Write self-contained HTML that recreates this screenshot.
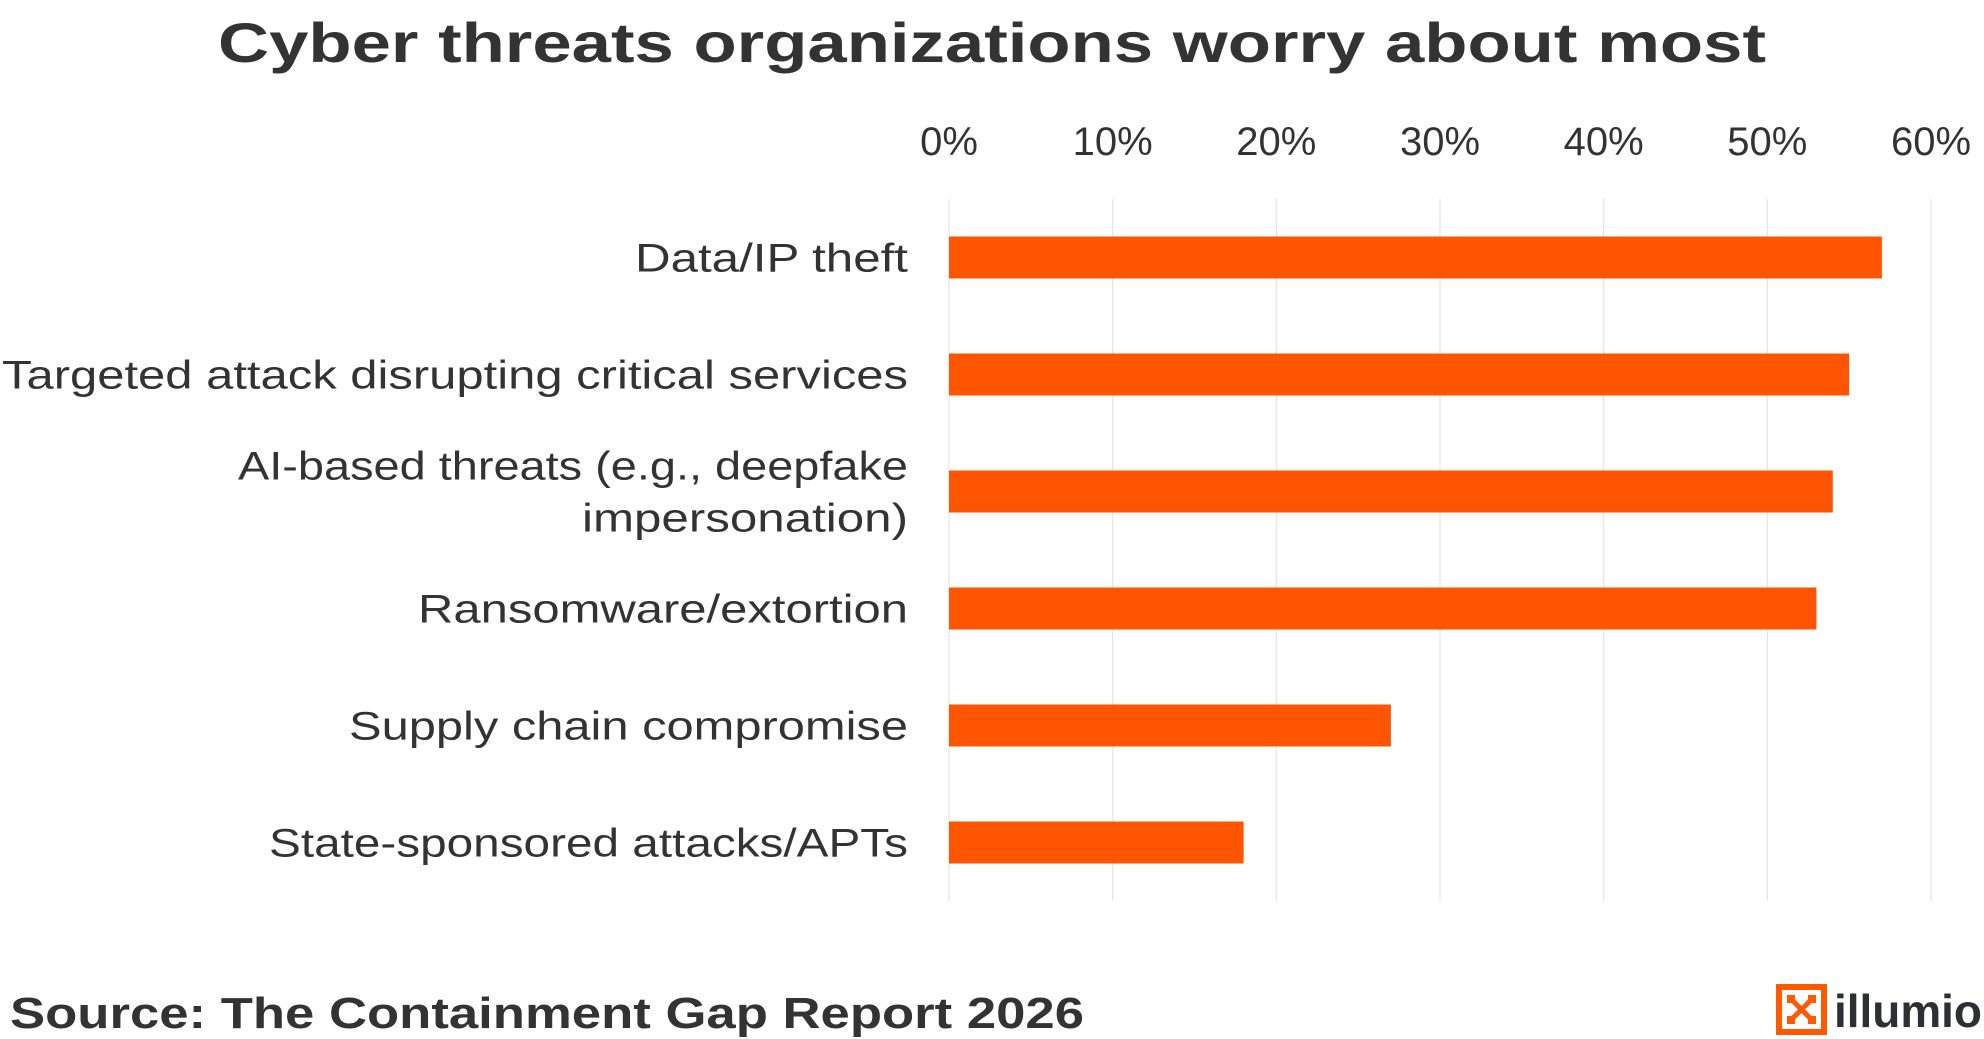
<!DOCTYPE html>
<html><head><meta charset="utf-8"><style>
html,body{margin:0;padding:0;background:#fff;}
svg{display:block;font-family:"Liberation Sans",sans-serif;}
</style></head><body>
<svg id="chart" width="1984" height="1039" viewBox="0 0 1984 1039">
<text x="992" y="62" text-anchor="middle" font-size="56" font-weight="bold" fill="#333" textLength="1548" lengthAdjust="spacingAndGlyphs">Cyber threats organizations worry about most</text>
<g id="grid"></g><g id="bars"></g><g id="labels"></g>
<text x="10" y="1028" font-size="44" font-weight="bold" fill="#333" textLength="1074" lengthAdjust="spacingAndGlyphs">Source:  The Containment Gap Report 2026</text>
<g>
<rect x="1779" y="987" width="45" height="45" fill="none" stroke="#ff5a00" stroke-width="6"/>
<path d="M1791 999 L1812 1020 M1812 999 L1791 1020" stroke="#ff5a00" stroke-width="5"/>
<rect x="1787" y="995" width="8" height="8" fill="#ff5a00"/><rect x="1808" y="995" width="8" height="8" fill="#ff5a00"/>
<rect x="1787" y="1016" width="8" height="8" fill="#ff5a00"/><rect x="1808" y="1016" width="8" height="8" fill="#ff5a00"/>
<text x="1834" y="1027" font-size="46" font-weight="bold" fill="#2d2f33" textLength="148" lengthAdjust="spacingAndGlyphs">illumio</text>
</g>
</svg>
<script>
const categories=["Data/IP theft","Targeted attack disrupting critical services","AI-based threats (e.g., deepfake|impersonation)","Ransomware/extortion","Supply chain compromise","State-sponsored attacks/APTs"];
const values=[57,55,54,53,27,18];
const ticks=[0,10,20,30,40,50,60];
const tickLabels=["0%","10%","20%","30%","40%","50%","60%"];
const labelLineWidths={"Data/IP theft":273,"Targeted attack disrupting critical services":906,"AI-based threats (e.g., deepfake":670,"impersonation)":326,"Ransomware/extortion":490,"Supply chain compromise":559,"State-sponsored attacks/APTs":639};
const NS="http://www.w3.org/2000/svg";
const x0=949,x1=1931,maxV=60,gTop=199,gBot=901;
const xs=v=>x0+(v/maxV)*(x1-x0);
const rowTop=199,rowH=117;
const yc=i=>rowTop+rowH*(i+0.5);
function mk(t,a){const e=document.createElementNS(NS,t);for(const k in a)e.setAttribute(k,a[k]);return e;}
const grid=document.getElementById('grid'),bars=document.getElementById('bars'),labs=document.getElementById('labels');
ticks.forEach((t,i)=>{
 const l=mk('line',{x1:xs(t),x2:xs(t),y1:gTop,y2:gBot,stroke:'#e6e6e6','stroke-width':1.3});
 
 
 grid.appendChild(l);
 const tx=mk('text',{x:xs(t),y:155,'text-anchor':'middle','font-size':40,fill:'#333'});
 tx.textContent=tickLabels[i];
 
 
 grid.appendChild(tx);
});
values.forEach((v,i)=>{
 const r=mk('rect',{x:x0,y:yc(i)-21,width:xs(v)-x0,height:42,fill:'#ff5500'});
 
 
 bars.appendChild(r);
 const parts=categories[i].split('|');
 parts.forEach((p,j)=>{
  const w=labelLineWidths[p];
  const attrs={x:908-(w||0),y:yc(i)+14+(j-(parts.length-1)/2)*52,'font-size':40,fill:'#333'};
  if(w){attrs.textLength=w;attrs.lengthAdjust='spacingAndGlyphs';}
  const t=mk('text',attrs);
  
  
  t.textContent=p;
  labs.appendChild(t);
 });
});
</script>
</body></html>
